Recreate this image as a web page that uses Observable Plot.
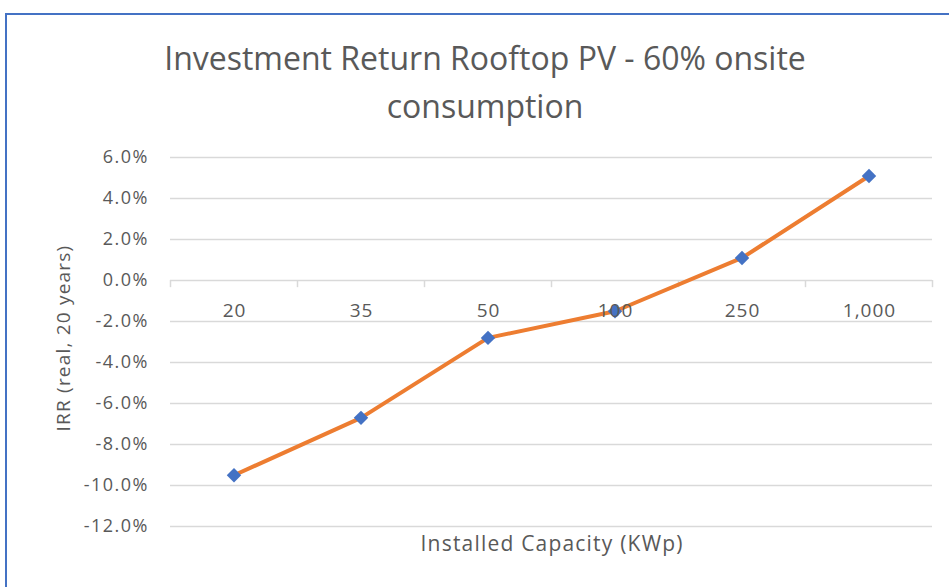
<!DOCTYPE html>
<html><head><meta charset="utf-8">
<script src="https://cdn.jsdelivr.net/npm/d3@7"></script>
<script src="https://cdn.jsdelivr.net/npm/@observablehq/plot@0.6"></script>
<style>
body{margin:0;background:#fff;font-family:"Open Sans",sans-serif;overflow:hidden;}
#frame{position:absolute;left:5px;top:13px;width:960px;height:600px;border-left:2px solid #4472C4;border-top:2px solid #4472C4;}
#title{position:absolute;left:0;width:970px;top:34px;text-align:center;color:#595959;font-size:32px;line-height:48px;white-space:nowrap;}
#chart{position:absolute;left:0;top:130px;}
</style></head><body>
<div id="frame"></div>
<div id="title">Investment Return Rooftop PV - 60% onsite<br>consumption</div>
<div id="chart"></div>
<script>
const categories = ["20", "35", "50", "100", "250", "1,000"];
const irr = [-9.5, -6.7, -2.8, -1.5, 1.1, 5.1];
const yTicks = [6, 4, 2, 0, -2, -4, -6, -8, -10, -12];
const yLabel = "IRR (real, 20 years)";
const xLabel = "Installed Capacity (KWp)";

const pts = irr.map((v, i) => ({i, v, cat: categories[i]}));
const bounds = d3.range(categories.length + 1).map(k => k - 0.5);
const grey = "#595959";

const chart = Plot.plot({
  width: 949,
  height: 457,
  marginLeft: 170,
  marginRight: 17,
  marginTop: 27,
  marginBottom: 61,
  style: {fontFamily: "Open Sans, sans-serif", background: "transparent"},
  x: {type: "linear", domain: [-0.5, categories.length - 0.5], axis: null},
  y: {domain: [-12, 6], axis: null},
  marks: [
    Plot.ruleY(yTicks, {stroke: "#d9d9d9", strokeWidth: 1.5}),
    Plot.ruleX(bounds, {y1: 0, y2: -0.35, stroke: "#d9d9d9", strokeWidth: 1.5}),
    Plot.text(yTicks, {ariaDescription: "ytick", x: -0.5, y: d => d, text: d => d.toFixed(1) + "%", textAnchor: "end", dx: -21.5, fontSize: 18, fill: grey}),
    Plot.line(pts, {x: "i", y: "v", stroke: "#ED7D31", strokeWidth: 4}),
    Plot.dot(pts, {x: "i", y: "v", symbol: "diamond2", r: 6.5, fill: "#4472C4", stroke: "none"}),
    Plot.text(pts, {ariaDescription: "xtick", x: "i", y: 0, text: "cat", dy: 30, dx: 0.5, fontSize: 19, fill: grey}),
    Plot.text([yLabel], {ariaDescription: "ylabel", frameAnchor: "left", textAnchor: "middle", text: d => d, rotate: -90, dx: -107, dy: -4, fontSize: 19, fill: grey}),
    Plot.text([xLabel], {ariaDescription: "xlabel", frameAnchor: "bottom", textAnchor: "middle", text: d => d, dy: 24, dx: 0.6, fontSize: 21, fill: grey})
  ]
});
const sel = d3.select(chart);
sel.selectAll('g[aria-description="ytick"] text').style("letter-spacing", "1.5px");
sel.selectAll('g[aria-description="xtick"] text').style("letter-spacing", "1px");
sel.selectAll('g[aria-description="ylabel"] text').style("letter-spacing", "1.2px");
sel.selectAll('g[aria-description="xlabel"] text').style("letter-spacing", "1.2px");
document.getElementById("chart").appendChild(chart);
</script>
</body></html>
